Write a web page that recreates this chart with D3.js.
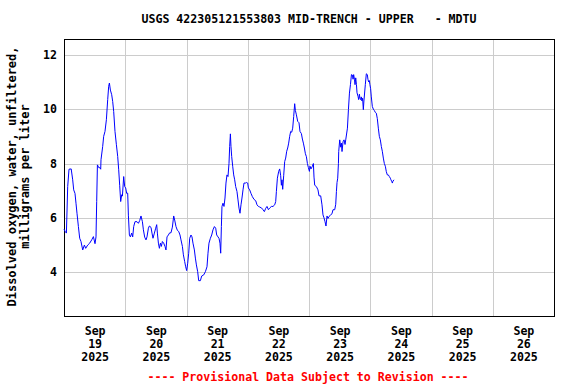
<!DOCTYPE html>
<html>
<head>
<meta charset="utf-8">
<script src="https://cdn.jsdelivr.net/npm/d3@7"></script>
<style>
  body { margin: 0; background: #fff; }
  text { font-family: "DejaVu Sans Mono", monospace; font-weight: bold; font-size: 11.6px; }
</style>
</head>
<body>
<div id="chart"></div>
<script>
// hours after 2025-09-19 00:00 and dissolved oxygen (mg/L)
var hours = [0, 0.47, 0.94, 1.45, 1.96, 2.82, 3.41, 3.8, 4.31, 4.7, 5.09, 5.64, 6.15, 6.66, 7.33, 7.99, 8.5, 9.29, 10.07, 10.85,
  11.52, 12.15, 12.54, 12.81, 13.09, 13.6, 13.99, 14.38, 14.5, 15.16, 15.55, 16.06, 16.61, 17.12, 17.51, 17.79, 18.18, 18.69, 19.08, 19.47,
  19.98, 20.53, 21.04, 21.43, 21.82, 22.21, 22.61, 22.88, 23.39, 23.78, 24.17, 24.56, 24.96, 25.23, 25.62, 26.02, 26.52, 26.92, 27.31, 27.82,
  28.6, 29.15, 29.66, 30.17, 30.72, 31.11, 31.62, 32.13, 32.52, 33.07, 33.46, 34.09, 34.48, 34.87, 35.42, 35.93, 36.32, 36.59, 36.99, 37.38,
  37.77, 38.16, 38.55, 39.06, 39.57, 39.96, 40.36, 40.9, 41.41, 41.92, 42.47, 42.98, 43.37, 43.88, 44.43, 44.94, 45.45, 45.84, 46.39, 46.78,
  47.29, 47.68, 48.07, 48.47, 48.86, 49.25, 49.76, 50.15, 50.54, 51.09, 51.48, 51.88, 52.38, 52.78, 53.44, 53.95, 54.73, 55.4, 56.03, 56.42,
  56.81, 57.36, 57.87, 58.38, 58.93, 59.44, 59.83, 60.34, 60.73, 61.12, 61.4, 61.67, 61.9, 62.3, 62.69, 63.08, 63.47, 63.86, 64.26, 64.65,
  64.92, 65.2, 65.43, 65.7, 66.1, 66.49, 66.88, 67.27, 67.78, 68.18, 68.57, 68.96, 69.35, 69.74, 70.14, 70.53, 71.08, 71.47, 71.98, 72.25,
  72.76, 73.27, 73.82, 74.45, 75.12, 75.63, 76.18, 76.67, 77.46, 77.97, 78.52, 79.03, 79.54, 80.09, 80.59, 81.26, 81.89, 82.56, 82.95, 83.22,
  83.61, 84.12, 84.51, 84.9, 85.18, 85.42, 85.69, 86.08, 86.47, 86.86, 87.26, 87.65, 88.04, 88.43, 88.82, 89.22, 89.61, 90, 90.39, 90.67,
  91.06, 91.57, 92.08, 92.47, 93.02, 93.41, 93.8, 94.19, 94.59, 94.98, 95.37, 95.76, 96.16, 96.39, 96.78, 97.33, 97.72, 97.96, 98.24, 98.9,
  99.52, 99.92, 100.58, 101.09, 101.48, 101.88, 102.27, 102.66, 103.06, 103.45, 103.84, 104.39, 105, 105.41, 106.08, 106.47, 106.74, 106.98, 107.25, 107.53,
  107.64, 108.04, 108.43, 108.71, 108.94, 109.33, 109.73, 110.12, 110.39, 111.06, 111.45, 111.85, 112.24, 112.63, 113.02, 113.26, 113.5, 113.81, 114.04, 114.31,
  114.59, 114.82, 115.21, 115.46, 115.74, 115.97, 116.24, 116.51, 116.74, 117.01, 117.29, 117.52, 118.07, 118.46, 118.86, 119.09, 119.36, 119.64, 119.87, 120.15,
  120.42, 120.81, 121.2, 121.6, 121.99, 122.38, 122.77, 123.17, 123.56, 123.95, 124.34, 124.73, 125.13, 125.52, 125.91, 126.3, 126.69, 127.09, 127.48, 127.87,
  128.1, 128.39, 128.66, 128.9, 129.29];

var oxygen = [5.58, 5.5, 5.44, 7.15, 7.79, 7.8, 7.4, 7.03, 6.9, 6.54, 6.17, 5.68, 5.25, 5.13, 4.82, 5.0, 4.88, 5.0, 5.07, 5.19,
  5.31, 5.05, 5.3, 6.6, 7.95, 7.85, 7.85, 7.79, 8.14, 8.63, 9.0, 9.18, 9.61, 10.35, 10.84, 10.96, 10.7, 10.53, 10.28, 9.91,
  9.18, 8.69, 8.26, 7.77, 7.2, 6.6, 6.85, 6.8, 7.52, 7.15, 7.1, 6.9, 6.91, 6.1, 5.37, 5.3, 5.44, 5.3, 5.68, 5.86,
  5.86, 5.8, 5.9, 6.07, 5.86, 5.56, 5.29, 5.19, 5.3, 5.62, 5.7, 5.65, 5.44, 5.25, 5.44, 5.62, 5.75, 5.44, 5.07, 4.88,
  5.07, 4.95, 5.13, 5.07, 4.95, 4.82, 5.3, 5.37, 5.45, 5.45, 5.66, 6.07, 5.92, 5.68, 5.54, 5.5, 5.37, 5.19, 4.95, 4.64,
  4.39, 4.2, 4.06, 4.33, 4.7, 5.25, 5.37, 5.3, 5.07, 4.82, 4.52, 4.27, 4.02, 3.69, 3.69, 3.86, 3.9, 4.02, 4.2, 4.7,
  5.07, 5.25, 5.37, 5.56, 5.68, 5.62, 5.37, 5.3, 5.25, 5.07, 4.7, 5.68, 6.42, 6.54, 6.42, 6.73, 7.28, 7.58, 7.52, 8.0,
  8.63, 9.09, 8.63, 8.26, 7.9, 7.58, 7.4, 7.15, 6.97, 6.66, 6.36, 6.17, 6.48, 6.73, 7.03, 7.28, 7.28, 7.3, 7.28, 7.1,
  7.03, 6.9, 6.78, 6.68, 6.63, 6.48, 6.42, 6.4, 6.36, 6.3, 6.23, 6.35, 6.42, 6.3, 6.36, 6.42, 6.42, 6.48, 6.6, 6.97,
  7.46, 7.71, 7.8, 7.55, 7.2, 7.4, 7.05, 7.55, 8.07, 8.2, 8.45, 8.57, 8.75, 9.0, 9.18, 9.15, 9.3, 9.73, 10.2, 9.95,
  9.79, 9.55, 9.5, 9.18, 9.1, 8.9, 8.75, 8.57, 8.36, 8.25, 8.0, 7.85, 7.71, 7.9, 7.8, 7.9, 8.0, 7.5, 7.2, 7.15,
  7.03, 6.81, 6.81, 6.48, 6.11, 6.0, 5.86, 5.7, 6.07, 5.98, 6.05, 6.1, 6.15, 6.3, 6.3, 6.5, 6.97, 7.3, 7.46, 8.0,
  8.44, 8.87, 8.6, 8.75, 8.44, 8.8, 8.87, 8.7, 8.87, 9.3, 9.98, 10.59, 10.9, 11.27, 11.25, 11.1, 11.27, 11.1, 10.9, 11.15,
  10.9, 10.6, 10.47, 10.35, 10.55, 10.4, 10.35, 10.45, 10.3, 10.4, 9.98, 10.3, 10.9, 11.3, 11.27, 11.1, 11.0, 11.05, 10.9, 10.75,
  10.45, 10.1, 10.0, 9.95, 9.88, 9.85, 9.65, 9.3, 9.0, 8.87, 8.63, 8.45, 8.2, 8.0, 7.9, 7.7, 7.58, 7.58, 7.52, 7.46,
  7.4, 7.35, 7.28, 7.35, 7.4];

var yTicks = [4, 6, 8, 10, 12];
var dayTicks = ["2025-09-19", "2025-09-20", "2025-09-21", "2025-09-22", "2025-09-23", "2025-09-24", "2025-09-25", "2025-09-26"];
var dayLabels = [["Sep", "19", "2025"], ["Sep", "20", "2025"], ["Sep", "21", "2025"], ["Sep", "22", "2025"],
  ["Sep", "23", "2025"], ["Sep", "24", "2025"], ["Sep", "25", "2025"], ["Sep", "26", "2025"]];

var titleText = "USGS 422305121553803 MID-TRENCH - UPPER   - MDTU";
var yLabel = ["Dissolved oxygen, water, unfiltered,", "milligrams per liter"];
var footText = "---- Provisional Data Subject to Revision ----";

function init() {
  var W = 576, H = 384;
  var left = 64, right = 554, top = 39, bottom = 316;

  var svg = d3.select("#chart")
    .append("svg")
    .attr("width", W)
    .attr("height", H);

  var start = Date.UTC(2025, 8, 19);
  var xScale = d3.scaleUtc()
    .domain([new Date(start), new Date(Date.UTC(2025, 8, 27))])
    .range([left, right]);

  var yScale = d3.scaleLinear()
    .domain([2.39, 12.58])
    .range([bottom, top]);

  var days = dayTicks.map(function(d) { return new Date(d + "T00:00:00Z"); });

  // horizontal grid + labels
  var yAxis = d3.axisLeft(yScale)
    .tickValues(yTicks)
    .tickSize(-(right - left))
    .tickPadding(7)
    .tickFormat(d3.format("d"));

  var gy = svg.append("g")
    .attr("transform", "translate(" + left + ",0)")
    .call(yAxis);
  gy.select(".domain").remove();
  gy.selectAll("line").attr("stroke", "#cccccc").attr("shape-rendering", "crispEdges");
  gy.selectAll("text").attr("fill", "#000").style("font-size", "11.6px");

  // vertical grid at midnight (skip the first, it is the frame)
  var xGrid = d3.axisBottom(xScale)
    .tickValues(days.slice(1))
    .tickSize(-(bottom - top))
    .tickFormat("");

  var gx = svg.append("g")
    .attr("transform", "translate(0," + bottom + ")")
    .call(xGrid);
  gx.select(".domain").remove();
  gx.selectAll("line").attr("stroke", "#cccccc").attr("shape-rendering", "crispEdges");

  // day labels at noon
  var noon = days.map(function(d) { return d3.utcHour.offset(d, 12); });
  var xLabels = d3.axisBottom(xScale)
    .tickValues(noon)
    .tickSize(0)
    .tickFormat("");

  var gl = svg.append("g")
    .attr("transform", "translate(0," + bottom + ")")
    .call(xLabels);
  gl.select(".domain").remove();
  gl.selectAll(".tick").each(function(d, i) {
    var t = d3.select(this).append("text")
      .attr("fill", "#000")
      .attr("text-anchor", "middle");
    dayLabels[i].forEach(function(s, k) {
      t.append("tspan").attr("x", 0).attr("y", 19 + k * 13).text(s);
    });
  });

  // frame
  svg.append("rect")
    .attr("x", left + 0.5)
    .attr("y", top + 0.5)
    .attr("width", right - left)
    .attr("height", bottom - top)
    .attr("fill", "none")
    .attr("stroke", "#000")
    .attr("stroke-width", 1)
    .attr("shape-rendering", "crispEdges");

  var data = hours.map(function(h, i) {
    return { t: new Date(start + h * 3600e3), v: oxygen[i] };
  });

  var line = d3.line()
    .x(function(d) { return xScale(d.t); })
    .y(function(d) { return yScale(d.v); });

  svg.append("path")
    .datum(data)
    .attr("d", line)
    .attr("fill", "none")
    .attr("stroke", "#0000ff")
    .attr("stroke-width", 1);

  svg.append("text")
    .attr("x", 309)
    .attr("y", 23)
    .attr("text-anchor", "middle")
    .style("white-space", "pre")
    .text(titleText);

  var ly = svg.append("text")
    .attr("transform", "translate(0," + ((top + bottom) / 2 - 1) + ") rotate(-90)")
    .attr("text-anchor", "middle")
    .style("font-size", "12px");
  ly.append("tspan").attr("x", 0).attr("y", 16).text(yLabel[0]);
  ly.append("tspan").attr("x", 0).attr("y", 29).text(yLabel[1]);

  svg.append("text")
    .attr("x", 308)
    .attr("y", 381)
    .attr("text-anchor", "middle")
    .attr("fill", "#ff0000")
    .text(footText);
}

window.onload = init;
</script>
</body>
</html>
